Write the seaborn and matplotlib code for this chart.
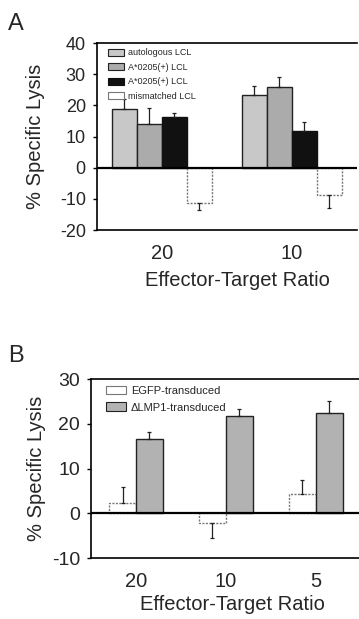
import pandas as pd
import seaborn as sns
import matplotlib.pyplot as plt
from matplotlib.patches import Patch

# Dados do painel A
ratios_a = ["20", "10"]
series_a = ["autologous LCL", "A*0205(+) LCL", "A*0205(+) LCL ", "mismatched LCL"]
autologous = [18.9, 23.4]
autologous_err = [3.2, 2.8]
a0205_grey = [13.9, 25.8]
a0205_grey_err = [5.3, 3.2]
a0205_black = [16.3, 11.8]
a0205_black_err = [1.3, 2.7]
mismatched = [-11.3, -8.9]
mismatched_err = [2.4, 3.9]

# Dados do painel B
ratios_b = ["20", "10", "5"]
series_b = ["EGFP-transduced", "\u0394LMP1-transduced"]
egfp = [2.3, -2.2, 4.4]
egfp_err = [3.5, 3.4, 3.0]
dlmp1 = [16.5, 21.7, 22.4]
dlmp1_err = [1.7, 1.7, 2.7]

cores_a = ["#c8c8c8", "#ababab", "#111111", "#ffffff"]
bordas_a = ["#222222", "#222222", "#111111", "#777777"]
cores_b = ["#ffffff", "#b2b2b2"]
bordas_b = ["#777777", "#222222"]

sns.set_style("white")
plt.rcParams["font.family"] = ["Liberation Sans", "DejaVu Sans"]
plt.rcParams["axes.unicode_minus"] = False

fig = plt.figure(figsize=(3.59, 6.19), dpi=100)
ax_a = fig.add_axes([0.270, 0.6284, 0.724, 0.3021])
ax_b = fig.add_axes([0.2535, 0.0985, 0.752, 0.2892])


def painel(ax, ratios, nomes, valores, erros, cores, bordas, largura,
           fs_y, fs_leg, x_leg):
    linhas = []
    for nome, vals in zip(nomes, valores):
        for r, v in zip(ratios, vals):
            linhas.append({"ratio": r, "serie": nome, "valor": v})
    df = pd.DataFrame(linhas)
    sns.barplot(data=df, x="ratio", y="valor", hue="serie", order=ratios,
                hue_order=nomes, palette=cores, width=largura, errorbar=None,
                legend=False, ax=ax, linewidth=1.0, edgecolor="black",
                saturation=1)
    # bordas e barras de erro de um lado so
    for cont, borda, errs in zip(ax.containers, bordas, erros):
        xs, ys, lo, hi = [], [], [], []
        for bar, e in zip(cont, errs):
            bar.set_edgecolor(borda)
            if borda == "#777777":
                bar.set_linestyle((0, (1.5, 1)))
            h = bar.get_height()
            xs.append(bar.get_x() + bar.get_width() / 2)
            ys.append(h)
            lo.append(e if h < 0 else 0)
            hi.append(e if h >= 0 else 0)
        ax.errorbar(xs, ys, yerr=[lo, hi], fmt="none", ecolor="#222222",
                    elinewidth=0.9, capsize=1.5, capthick=0.9)
    ax.axhline(0, color="black", lw=1.6, zorder=5)
    ax.set_xlim(-0.5, len(ratios) - 0.5)
    ax.set_xticks(range(len(ratios)))
    ax.set_xticklabels(ratios, fontsize=14.5)
    ax.set_xticks([i + 0.5 for i in range(len(ratios) - 1)], minor=True)
    ax.tick_params(axis="x", which="major", length=0, pad=10)
    ax.tick_params(axis="x", which="minor", length=4, width=1, direction="out",
                   color="black")
    ax.tick_params(axis="y", length=3, width=1, direction="out", left=True,
                   labelsize=fs_y, pad=5, color="black")
    for lado in ["left", "top", "bottom"]:
        ax.spines[lado].set_color("black")
        ax.spines[lado].set_linewidth(1.2)
    ax.spines["right"].set_visible(False)
    ax.set_ylabel("% Specific Lysis", fontsize=14.5)
    ax.set_xlabel("Effector-Target Ratio", fontsize=14.5)
    handles = [Patch(facecolor=c, edgecolor=b, linewidth=0.8) for c, b in zip(cores, bordas)]
    ax.legend(handles, [n.strip() for n in nomes], loc="upper left",
              bbox_to_anchor=(x_leg, 1.0), frameon=False, fontsize=fs_leg,
              handlelength=1.85, handleheight=0.8, labelspacing=0.6,
              handletextpad=0.4, borderaxespad=0.2)


painel(ax_a, ratios_a, series_a,
       [autologous, a0205_grey, a0205_black, mismatched],
       [autologous_err, a0205_grey_err, a0205_black_err, mismatched_err],
       cores_a, bordas_a, 0.77, 13, 6.5, 0.02)
ax_a.set_ylim(-20, 40)
ax_a.set_yticks([-20, -10, 0, 10, 20, 30, 40])
ax_a.yaxis.set_label_coords(-0.20, 0.5)
ax_a.xaxis.set_label_coords(0.54, -0.219)

painel(ax_b, ratios_b, series_b, [egfp, dlmp1], [egfp_err, dlmp1_err],
       cores_b, bordas_b, 0.6, 14, 8, 0.03)
ax_b.set_ylim(-10, 30)
ax_b.set_yticks([-10, 0, 10, 20, 30])
ax_b.yaxis.set_label_coords(-0.167, 0.5)
ax_b.xaxis.set_label_coords(0.524, -0.207)

fig.text(0.022, 0.952, "A", fontsize=17)
fig.text(0.022, 0.415, "B", fontsize=17)

fig.savefig("out.png", dpi=100)
